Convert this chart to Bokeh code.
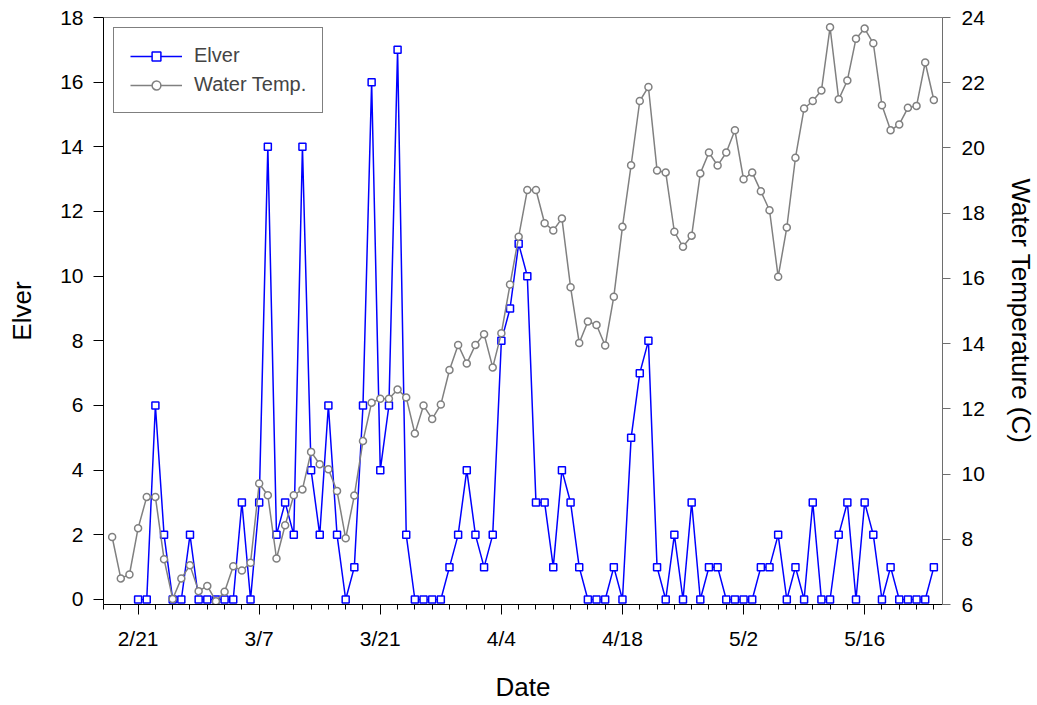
import pandas as pd
from bokeh.plotting import figure
from bokeh.models import Range1d, LinearAxis, FixedTicker, Span
from bokeh.embed import file_html
from bokeh.resources import INLINE

base = pd.Timestamp("2019-02-18")
temp_dates = pd.date_range("2019-02-18", "2019-05-24", freq="D")
elver_dates = pd.date_range("2019-02-21", "2019-05-24", freq="D")

water_temp = [
    8.07, 6.80, 6.92, 8.34, 9.30, 9.30, 7.39, 6.17, 6.80, 7.20,
    6.41, 6.57, 6.10, 6.39, 7.17, 7.04, 7.28, 9.71, 9.35, 7.41,
    8.43, 9.35, 9.53, 10.68, 10.30, 10.15, 9.48, 8.03, 9.34, 11.01,
    12.19, 12.31, 12.31, 12.59, 12.35, 11.24, 12.10, 11.69, 12.13, 13.19,
    13.96, 13.39, 13.96, 14.29, 13.27, 14.32, 15.81, 17.28, 18.71, 18.71,
    17.69, 17.47, 17.84, 15.73, 14.02, 14.68, 14.57, 13.94, 15.44, 17.58,
    19.47, 21.44, 21.87, 19.31, 19.25, 17.43, 16.97, 17.31, 19.22, 19.86,
    19.46, 19.86, 20.54, 19.04, 19.25, 18.67, 18.09, 16.05, 17.56, 19.70,
    21.21, 21.44, 21.76, 23.70, 21.49, 22.07, 23.35, 23.66, 23.21, 21.31,
    20.54, 20.72, 21.23, 21.29, 22.62, 21.47,
]

elver = [
    0, 0, 6, 2, 0, 0, 2, 0, 0, 0,
    0, 0, 3, 0, 3, 14, 2, 3, 2, 14,
    4, 2, 6, 2, 0, 1, 6, 16, 4, 6,
    17, 2, 0, 0, 0, 0, 1, 2, 4, 2,
    1, 2, 8, 9, 11, 10, 3, 3, 1, 4,
    3, 1, 0, 0, 0, 1, 0, 5, 7, 8,
    1, 0, 2, 0, 3, 0, 1, 1, 0, 0,
    0, 0, 1, 1, 2, 0, 1, 0, 3, 0,
    0, 2, 3, 0, 3, 2, 0, 1, 0, 0,
    0, 0, 1,
]

tick_labels = ["2/21", "3/7", "3/21", "4/4", "4/18", "5/2", "5/16"]
tick_dates = ["2019-02-21", "2019-03-07", "2019-03-21", "2019-04-04",
              "2019-04-18", "2019-05-02", "2019-05-16"]


def day(d):
    return (pd.Timestamp(d) - base).days


FONT = "Liberation Sans"

temp_x = [day(d) for d in temp_dates]
elver_x = [day(d) for d in elver_dates]
x_lo, x_hi = day("2019-02-17"), day("2019-05-25")

p = figure(
    frame_width=839, frame_height=587,
    min_border_left=103, min_border_top=17, min_border_right=88, min_border_bottom=90,
    x_range=Range1d(x_lo, x_hi), y_range=Range1d(-0.155, 18),
    output_backend="svg", toolbar_location=None,
    x_axis_label="Date", y_axis_label="Elver",
)
p.extra_y_ranges = {"temp": Range1d(6, 24)}
p.grid.visible = False
p.outline_line_color = None
p.background_fill_color = "white"

# x axis: major every 14 days, minor every 2
xt = [day(d) for d in tick_dates]
p.xaxis.ticker = FixedTicker(ticks=xt, minor_ticks=list(range(x_lo, x_hi + 1, 2)))
p.xaxis.major_label_overrides = {t: lab for t, lab in zip(xt, tick_labels)}
p.yaxis.ticker = FixedTicker(ticks=list(range(0, 19, 2)))

right = LinearAxis(y_range_name="temp", axis_label="Water Temperature (C)",
                   ticker=FixedTicker(ticks=list(range(6, 25, 2))))
p.add_layout(right, "right")
try:
    right.axis_label_orientation = "vertical"
except Exception:
    pass

for ax in p.axis:
    ax.axis_line_color = "black"
    ax.major_tick_line_color = "black"
    ax.minor_tick_line_color = None
    ax.major_tick_in = 0
    ax.major_tick_out = 10
    ax.major_label_text_font = FONT
    ax.major_label_text_font_size = "21px"
    ax.major_label_text_color = "black"
    ax.axis_label_text_font = FONT
    ax.axis_label_text_font_size = "26px"
    ax.axis_label_text_font_style = "normal"
    ax.axis_label_text_color = "black"
    ax.major_label_standoff = 10

p.xaxis.minor_tick_line_color = "black"
p.xaxis.minor_tick_in = 0
p.xaxis.minor_tick_out = 5
p.xaxis.major_label_standoff = 12
p.xaxis.axis_label_standoff = 19
p.yaxis[0].axis_label_standoff = 20
right.axis_line_color = "#6e6e6e"
right.major_tick_line_color = "#6e6e6e"
right.major_tick_out = 8
right.major_label_standoff = 11
right.axis_label_standoff = 18

p.add_layout(Span(location=18, dimension="width", line_color="black", line_width=1))

p.line(elver_x, elver, line_color="#0000ff", line_width=1.5, legend_label="Elver")
p.scatter(elver_x, elver, marker="square", size=7, line_color="#0000ff",
          fill_color="white", line_width=1.5, legend_label="Elver")
p.line(temp_x, water_temp, y_range_name="temp", line_color="#808080",
       line_width=1.5, legend_label="Water Temp.")
p.scatter(temp_x, water_temp, y_range_name="temp", marker="circle", size=7,
          line_color="#808080", fill_color="white", line_width=1.5,
          legend_label="Water Temp.")

lg = p.legend[0]
lg.location = "top_left"
lg.margin = 10
lg.padding = 16
lg.spacing = 6
lg.glyph_width = 52
lg.glyph_height = 22
lg.label_height = 22
lg.label_standoff = 12
lg.label_text_font = FONT
lg.label_text_font_size = "20px"
lg.border_line_color = "black"
lg.border_line_width = 1
lg.background_fill_alpha = 1

open("out.html", "w").write(file_html(p, INLINE))
